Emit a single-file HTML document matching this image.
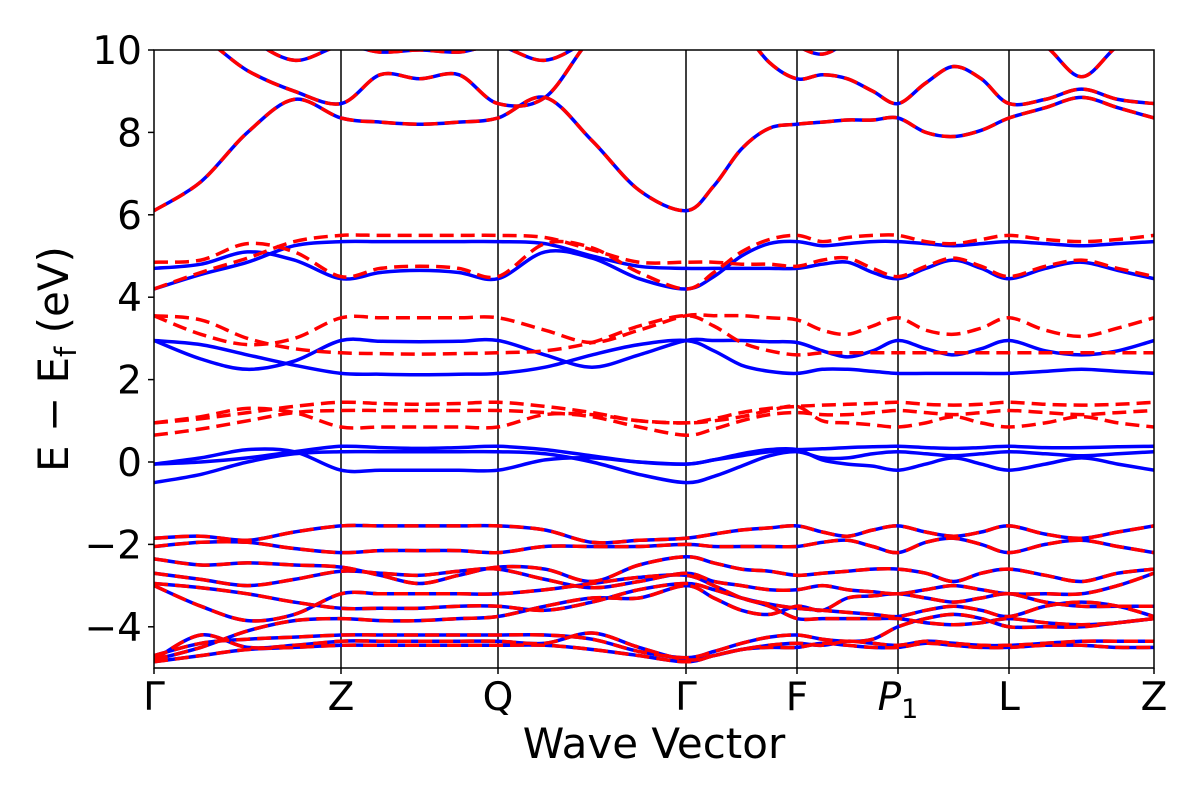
<!DOCTYPE html>
<html><head><meta charset="utf-8"><style>
body{margin:0;background:#fff;}
svg text{font-family:"DejaVu Sans","Liberation Sans",sans-serif;fill:#000;}
</style></head><body>
<svg id="chart" width="1200" height="800" xmlns="http://www.w3.org/2000/svg">
<defs><clipPath id="clip"><rect x="154" y="50" width="1000" height="618"/></clipPath></defs>
<g id="bands" clip-path="url(#clip)"></g>
<g id="axes"></g>
</svg>
<script>
const kNodes = [0,1.87,3.44,5.32,6.43,7.44,8.55,10.0];
const kLabels = ["Γ","Z","Q","Γ","F","P1","L","Z"];
const yTicks = [-4,-2,0,2,4,6,8,10];
const shared = [
 [6.1,6.8,8.0,8.8,8.35, 8.25,8.2,8.25,8.35, 8.85,7.8,6.6,6.1, 6.7,7.6,8.1,8.2, 8.25,8.3,8.3,8.35, 8.0,7.9,8.05,8.35, 8.6,8.85,8.6,8.35],
 [10.5,10.3,9.5,9.0,8.7, 9.4,9.3,9.4,8.7, 8.85,10.3,11,11, 11,10.5,9.7,9.3, 9.4,9.3,9.0,8.7, 9.2,9.6,9.3,8.7, 8.8,9.05,8.8,8.7],
 [11,11,10.3,9.75,10.1, 9.95,10,9.95,10.1, 9.75,10.3,11,11, 11,11,10.5,10.1, 9.9,10.2,10.6,11, 11,11,11,10.5, 10.1,9.35,10.1,10.5],
 [-1.85,-1.8,-1.9,-1.7,-1.55, -1.55,-1.55,-1.55,-1.55, -1.65,-1.95,-1.9,-1.85, -1.75,-1.65,-1.6,-1.55, -1.7,-1.8,-1.65,-1.55, -1.7,-1.8,-1.7,-1.55, -1.75,-1.85,-1.7,-1.55],
 [-2.05,-1.95,-1.95,-2.1,-2.2, -2.15,-2.15,-2.15,-2.2, -2.05,-2.05,-2.05,-2.0, -2.05,-2.05,-2.05,-2.05, -1.95,-1.9,-2.05,-2.2, -1.95,-1.85,-2.0,-2.2, -2.0,-1.9,-2.05,-2.2],
 [-2.35,-2.5,-2.45,-2.5,-2.55, -2.75,-2.95,-2.75,-2.55, -2.6,-2.9,-2.5,-2.3, -2.45,-2.6,-2.65,-2.75, -2.7,-2.65,-2.6,-2.6, -2.7,-2.9,-2.7,-2.6, -2.75,-2.9,-2.7,-2.6],
 [-2.7,-2.85,-3.0,-2.85,-2.65, -2.7,-2.75,-2.65,-2.6, -2.85,-3.05,-2.9,-2.7, -2.9,-3.0,-3.1,-3.1, -3.0,-3.1,-3.15,-3.2, -3.1,-3.0,-3.1,-3.2, -3.2,-3.2,-3.0,-2.7],
 [-2.95,-3.05,-3.2,-3.4,-3.55, -3.55,-3.55,-3.5,-3.5, -3.6,-3.4,-3.1,-2.95, -3.1,-3.3,-3.45,-3.55, -3.6,-3.65,-3.7,-3.75, -3.6,-3.5,-3.6,-3.75, -3.5,-3.4,-3.5,-3.75],
 [-3.0,-3.5,-3.85,-3.7,-3.2, -3.2,-3.2,-3.2,-3.2, -3.1,-2.95,-2.8,-2.75, -3.0,-3.3,-3.5,-3.8, -3.8,-3.8,-3.8,-3.8, -3.9,-3.95,-3.9,-3.8, -3.9,-3.95,-3.9,-3.8],
 [-4.8,-4.5,-4.1,-3.85,-3.8, -3.85,-3.85,-3.8,-3.75, -3.5,-3.3,-3.3,-3.0, -3.3,-3.6,-3.7,-3.5, -3.6,-3.3,-3.25,-3.2, -3.3,-3.4,-3.3,-3.2, -3.4,-3.5,-3.5,-3.5],
 [-4.7,-4.4,-4.3,-4.25,-4.2, -4.2,-4.2,-4.2,-4.2, -4.2,-4.3,-4.6,-4.75, -4.6,-4.4,-4.25,-4.2, -4.3,-4.35,-4.3,-4.0, -3.8,-3.7,-3.8,-4.0, -4.0,-4.0,-3.9,-3.8],
 [-4.8,-4.2,-4.5,-4.45,-4.35, -4.35,-4.35,-4.35,-4.35, -4.4,-4.15,-4.5,-4.8, -4.7,-4.55,-4.45,-4.4, -4.45,-4.35,-4.4,-4.45, -4.35,-4.4,-4.45,-4.45, -4.4,-4.35,-4.35,-4.35],
 [-4.85,-4.7,-4.55,-4.5,-4.45, -4.45,-4.45,-4.45,-4.45, -4.45,-4.55,-4.7,-4.85, -4.7,-4.55,-4.5,-4.5, -4.4,-4.45,-4.5,-4.5, -4.4,-4.45,-4.5,-4.5, -4.45,-4.45,-4.5,-4.5]
];
const blueOnly = [
 [4.2,4.55,4.85,5.25,5.35, 5.35,5.35,5.35,5.35, 5.3,5.0,4.75,4.7, 4.7,4.7,4.7,4.7, 4.8,4.85,4.6,4.45, 4.7,4.9,4.7,4.45, 4.7,4.85,4.65,4.45],
 [4.7,4.8,5.1,4.9,4.45, 4.6,4.65,4.6,4.45, 5.1,4.95,4.45,4.2, 4.5,5.0,5.3,5.35, 5.25,5.3,5.35,5.35, 5.3,5.25,5.3,5.35, 5.3,5.25,5.3,5.35],
 [2.95,2.5,2.25,2.45,2.95, 2.93,2.92,2.93,2.95, 2.6,2.3,2.6,2.95, 2.95,2.95,2.92,2.9, 2.7,2.55,2.7,2.95, 2.75,2.6,2.75,2.95, 2.7,2.6,2.7,2.95],
 [2.95,2.85,2.6,2.35,2.15, 2.13,2.12,2.13,2.15, 2.3,2.6,2.85,2.95, 2.7,2.35,2.2,2.15, 2.25,2.25,2.2,2.15, 2.15,2.15,2.15,2.15, 2.2,2.25,2.2,2.15],
 [-0.5,-0.3,0.0,0.2,0.25, 0.25,0.25,0.25,0.25, 0.2,0.0,-0.3,-0.5, -0.35,-0.1,0.15,0.25, 0.1,0.1,0.2,0.25, 0.2,0.15,0.2,0.25, 0.2,0.15,0.2,0.25],
 [-0.05,0.0,0.1,0.25,0.38, 0.35,0.33,0.35,0.38, 0.3,0.15,0.0,-0.05, 0.05,0.15,0.25,0.3, 0.32,0.35,0.37,0.38, 0.35,0.33,0.35,0.38, 0.35,0.35,0.37,0.38],
 [-0.05,0.1,0.3,0.25,-0.2, -0.2,-0.2,-0.2,-0.2, 0.05,0.1,0.0,-0.05, 0.05,0.2,0.3,0.3, 0.05,-0.05,-0.1,-0.2, -0.05,0.1,-0.05,-0.2, -0.05,0.1,-0.05,-0.2]
];
const redOnly = [
 [4.2,4.6,4.95,5.35,5.5, 5.5,5.5,5.5,5.5, 5.45,5.15,4.85,4.85, 4.85,4.8,4.8,4.75, 4.9,4.95,4.7,4.5, 4.75,4.95,4.75,4.5, 4.75,4.9,4.7,4.5],
 [4.85,4.9,5.3,5.1,4.5, 4.7,4.75,4.7,4.5, 5.3,5.2,4.6,4.2, 4.6,5.1,5.4,5.5, 5.35,5.45,5.5,5.5, 5.35,5.3,5.4,5.5, 5.4,5.35,5.4,5.5],
 [3.55,3.1,2.85,3.0,3.5, 3.5,3.5,3.5,3.5, 3.2,2.9,3.2,3.55, 3.55,3.55,3.5,3.45, 3.2,3.1,3.3,3.5, 3.2,3.1,3.25,3.5, 3.2,3.05,3.25,3.5],
 [3.55,3.45,3.0,2.75,2.65, 2.63,2.62,2.63,2.65, 2.7,2.9,3.3,3.55, 3.3,2.9,2.7,2.6, 2.65,2.65,2.65,2.65, 2.65,2.65,2.65,2.65, 2.65,2.65,2.65,2.65],
 [0.65,0.8,1.0,1.2,1.25, 1.25,1.25,1.25,1.25, 1.2,1.1,0.85,0.65, 0.8,1.0,1.15,1.2, 1.15,1.15,1.2,1.25, 1.2,1.15,1.2,1.25, 1.2,1.15,1.2,1.25],
 [0.95,1.05,1.2,1.35,1.45, 1.42,1.4,1.42,1.45, 1.35,1.2,1.0,0.95, 1.05,1.2,1.3,1.35, 1.38,1.4,1.42,1.45, 1.4,1.38,1.4,1.45, 1.4,1.38,1.4,1.45],
 [0.95,1.1,1.3,1.2,0.85, 0.85,0.85,0.85,0.85, 1.15,1.15,1.0,0.95, 1.0,1.1,1.25,1.35, 1.0,0.95,0.9,0.85, 0.95,1.1,0.95,0.85, 0.95,1.1,0.95,0.85]
];
const NS='http://www.w3.org/2000/svg';
const X0=154, X1=1154, Y0=668, Y1=50, EMIN=-5, EMAX=10;
const kMax = kNodes[kNodes.length-1];
function xOf(k){return X0+(k/kMax)*(X1-X0);}
function yOf(e){return Y0-(e-EMIN)/(EMAX-EMIN)*(Y0-Y1);}
function kOf(i){const s=Math.min(Math.floor(i/4),kNodes.length-2);const f=(i-s*4)/4;return kNodes[s]+f*(kNodes[s+1]-kNodes[s]);}
function pathFor(vals){
  const p=vals.map((v,i)=>[xOf(kOf(i)),yOf(v)]);
  let d='M'+p[0][0].toFixed(1)+','+p[0][1].toFixed(1);
  for(let i=0;i<p.length-1;i++){
    const p0=p[i-1]||p[i],p1=p[i],p2=p[i+1],p3=p[i+2]||p[i+1];
    const c1=[p1[0]+(p2[0]-p0[0])/6,p1[1]+(p2[1]-p0[1])/6];
    const c2=[p2[0]-(p3[0]-p1[0])/6,p2[1]-(p3[1]-p1[1])/6];
    d+=' C'+c1.map(n=>n.toFixed(1))+' '+c2.map(n=>n.toFixed(1))+' '+p2.map(n=>n.toFixed(1));
  }
  return d;
}
const g=document.getElementById('bands');
const ax=document.getElementById('axes');
kNodes.slice(1,-1).forEach(k=>{
  const l=document.createElementNS(NS,'line');
  l.setAttribute('x1',xOf(k));l.setAttribute('x2',xOf(k));l.setAttribute('y1',Y1);l.setAttribute('y2',Y0);
  l.setAttribute('stroke','#000');l.setAttribute('stroke-width','1.5');
  
  
  g.appendChild(l);
});
function draw(arr,color,dash,name){
  arr.forEach(v=>{
    const p=document.createElementNS(NS,'path');
    p.setAttribute('d',pathFor(v));p.setAttribute('fill','none');p.setAttribute('stroke',color);
    p.setAttribute('stroke-width','3.5');
    if(dash)p.setAttribute('stroke-dasharray','14,7');
    
    
    g.appendChild(p);
  });
}
draw(shared,'#0000ff',false,'blue-band');
draw(blueOnly,'#0000ff',false,'blue-band');
draw(shared,'#ff0000',true,'red-dashed-band');
draw(redOnly,'#ff0000',true,'red-dashed-band');
const fr=document.createElementNS(NS,'rect');
fr.setAttribute('x',X0);fr.setAttribute('y',Y1);fr.setAttribute('width',X1-X0);fr.setAttribute('height',Y0-Y1);
fr.setAttribute('fill','none');fr.setAttribute('stroke','#000');fr.setAttribute('stroke-width','1.5');


ax.appendChild(fr);
yTicks.forEach(t=>{
  const y=yOf(t);
  const l=document.createElementNS(NS,'line');
  l.setAttribute('x1',X0-6);l.setAttribute('x2',X0);l.setAttribute('y1',y);l.setAttribute('y2',y);l.setAttribute('stroke','#000');l.setAttribute('stroke-width','1.5');
  
  
  ax.appendChild(l);
  const tx=document.createElementNS(NS,'text');
  tx.setAttribute('x',X0-12);tx.setAttribute('y',y+14);tx.setAttribute('text-anchor','end');tx.setAttribute('font-size','39');
  tx.textContent=t<0?'−'+Math.abs(t):String(t);
  
  
  ax.appendChild(tx);
});
kNodes.forEach((k,i)=>{
  const x=xOf(k);
  const l=document.createElementNS(NS,'line');
  l.setAttribute('x1',x);l.setAttribute('x2',x);l.setAttribute('y1',Y0);l.setAttribute('y2',Y0+6);l.setAttribute('stroke','#000');l.setAttribute('stroke-width','1.5');
  
  
  ax.appendChild(l);
  const tx=document.createElementNS(NS,'text');
  tx.setAttribute('x',x);tx.setAttribute('y',710);tx.setAttribute('text-anchor','middle');tx.setAttribute('font-size','39');
  if(kLabels[i]==='P1'){
    tx.innerHTML='<tspan font-style="italic">P</tspan><tspan font-size="27" dy="8">1</tspan>';
  } else tx.textContent=kLabels[i];
  
  
  ax.appendChild(tx);
});
</script>
<svg style="position:absolute;left:0;top:0" width="1200" height="800" xmlns="http://www.w3.org/2000/svg">
<text x="654" y="758" text-anchor="middle" font-size="42" style="font-family:'DejaVu Sans','Liberation Sans',sans-serif">Wave Vector</text>
<text transform="translate(68,359) rotate(-90)" text-anchor="middle" font-size="42" style="font-family:'DejaVu Sans','Liberation Sans',sans-serif">E − E<tspan font-size="29" dy="8">f</tspan><tspan dy="-8"> (eV)</tspan></text>
</svg>
</body></html>
